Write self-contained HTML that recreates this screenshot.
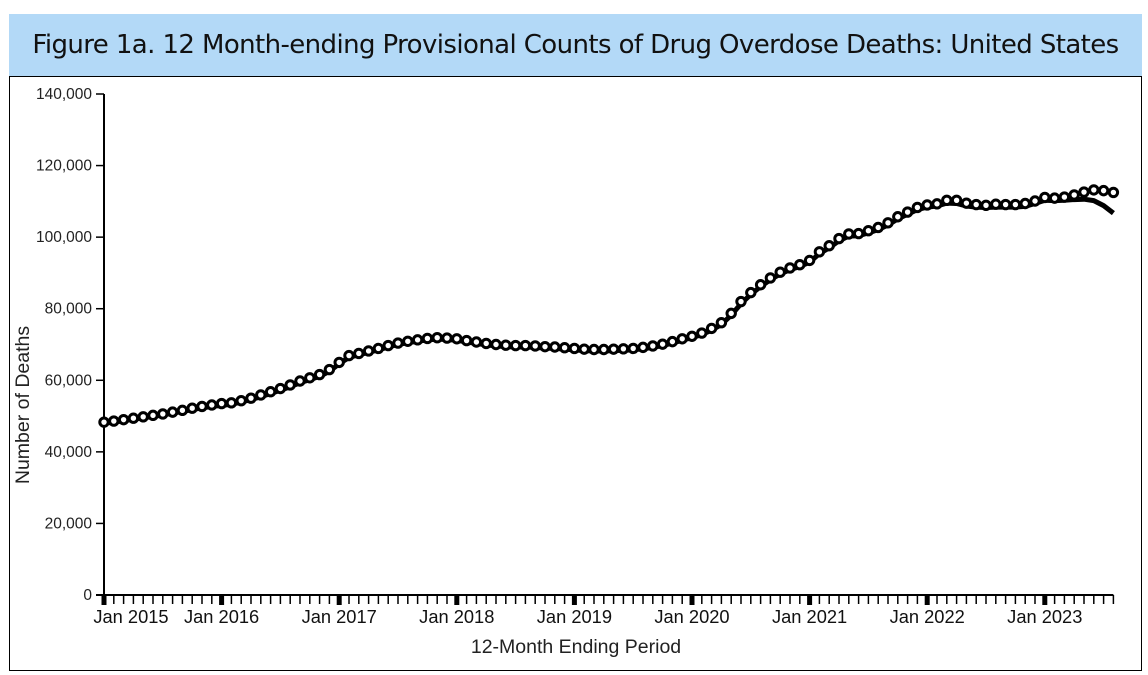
<!DOCTYPE html>
<html><head><meta charset="utf-8"><style>
body{margin:0;background:#fff;width:1148px;height:675px;overflow:hidden;font-family:"Liberation Sans",sans-serif}
#hdr{position:absolute;left:9px;top:14px;width:1133px;height:62px;background:#b3d9f7;display:flex;align-items:center;justify-content:center;font-size:26px;color:#111;font-family:"DejaVu Sans","Liberation Sans",sans-serif;letter-spacing:-0.6px}
#box{position:absolute;left:9px;top:76px;width:1131px;height:593px;border:1px solid #000;border-top:1.5px solid #000}
svg{position:absolute;left:0;top:0}
</style></head><body>
<div id="hdr">Figure 1a. 12 Month-ending Provisional Counts of Drug Overdose Deaths: United States</div>
<div id="box"></div>
<svg id="c" width="1148" height="675"></svg>
<script>
const predicted=[48.3,48.6,49.0,49.4,49.8,50.2,50.6,51.1,51.6,52.2,52.7,53.1,
53.5,53.7,54.3,55.0,55.9,56.8,57.7,58.7,59.8,60.7,61.6,63.0,
65.0,66.9,67.5,68.2,68.9,69.7,70.4,70.9,71.3,71.7,71.9,71.8,
71.6,71.1,70.7,70.3,70.0,69.8,69.7,69.7,69.6,69.4,69.3,69.1,
68.9,68.7,68.6,68.6,68.7,68.8,68.9,69.2,69.6,70.1,70.8,71.6,
72.3,73.2,74.5,76.1,78.7,82.0,84.5,86.7,88.6,90.2,91.4,92.3,
93.5,95.9,97.6,99.6,100.9,101.0,101.8,102.7,104.0,105.7,107.0,108.3,
109.0,109.3,110.3,110.3,109.5,109.1,108.9,109.2,109.1,109.1,109.4,110.1,
111.1,110.9,111.2,111.8,112.6,113.2,113.0,112.5];
const reported=[48.0,48.3,48.7,49.1,49.5,49.9,50.3,50.8,51.3,51.8,52.3,52.7,
53.0,53.3,53.9,54.6,55.4,56.3,57.2,58.2,59.3,60.2,61.1,62.5,
64.6,66.4,67.1,67.8,68.5,69.3,70.0,70.5,70.9,71.3,71.5,71.4,
71.2,70.7,70.3,69.9,69.6,69.4,69.3,69.3,69.2,69.0,68.9,68.7,
68.5,68.3,68.2,68.2,68.3,68.4,68.5,68.8,69.2,69.7,70.4,71.2,
71.9,72.8,74.0,75.6,78.2,81.4,84.0,86.2,88.1,89.7,90.9,91.8,
93.0,95.4,97.0,99.0,100.3,100.4,101.2,102.1,103.4,105.1,106.4,107.7,
108.4,108.7,109.5,109.4,108.7,108.4,108.3,108.4,108.4,108.4,108.6,109.4,
110.3,110.2,110.3,110.5,110.6,110.2,108.8,106.7];
const yTicks=[0,20000,40000,60000,80000,100000,120000,140000];
const yearLabels=["Jan 2015","Jan 2016","Jan 2017","Jan 2018","Jan 2019","Jan 2020","Jan 2021","Jan 2022","Jan 2023"];
const NS="http://www.w3.org/2000/svg",svg=document.getElementById('c');
const x0=104,dx=9.8,y0=595,yTop=94;
const X=i=>x0+i*dx, Y=v=>y0-(v/140000)*(y0-yTop);
function el(t,a,p){const e=document.createElementNS(NS,t);for(const k in a)e.setAttribute(k,a[k]);(p||svg).appendChild(e);return e;}
let ax=el('line',{x1:x0,y1:yTop,x2:x0,y2:y0,stroke:'#000','stroke-width':2});


yTicks.forEach(v=>{
 el('line',{x1:x0-8,y1:Y(v),x2:x0,y2:Y(v),stroke:'#000','stroke-width':1.5});
 const t=el('text',{x:x0-12,y:Y(v)+5,'text-anchor':'end','font-size':15.5,fill:'#222'});
 t.textContent=v.toLocaleString('en-US');
 
 
});
const n=predicted.length;
let xa=el('line',{x1:x0-8,y1:y0,x2:X(n-1),y2:y0,stroke:'#000','stroke-width':2});


for(let i=0;i<n;i++){
 if(i%12==0) el('rect',{x:X(i)-2.5,y:y0,width:5,height:10,fill:'#000'});
 else el('line',{x1:X(i),y1:y0,x2:X(i),y2:y0+9,stroke:'#000','stroke-width':1.5});
}
yearLabels.forEach((l,k)=>{
 const t=el('text',{x:X(k*12)+(k==0?27:0),y:y0+28,'text-anchor':'middle','font-size':18.3,fill:'#111'});
 t.textContent=l;
 
 
});
let xt=el('text',{x:576,y:653,'text-anchor':'middle','font-size':19.5,fill:'#222'});
xt.textContent='12-Month Ending Period';


let yt=el('text',{x:0,y:0,'text-anchor':'middle','font-size':19.5,fill:'#222',transform:'translate(29,405) rotate(-90)'});
yt.textContent='Number of Deaths';


let d=reported.map((v,i)=>(i?'L':'M')+X(i)+','+Y(v*1000)).join('');
let ln=el('path',{d:d,fill:'none',stroke:'#000','stroke-width':5,'stroke-linejoin':'round'});


predicted.forEach((v,i)=>{
 const c=el('circle',{cx:X(i),cy:Y(v*1000),r:4.2,fill:'#fff',stroke:'#000','stroke-width':3});
 
 
});
</script>
</body></html>
